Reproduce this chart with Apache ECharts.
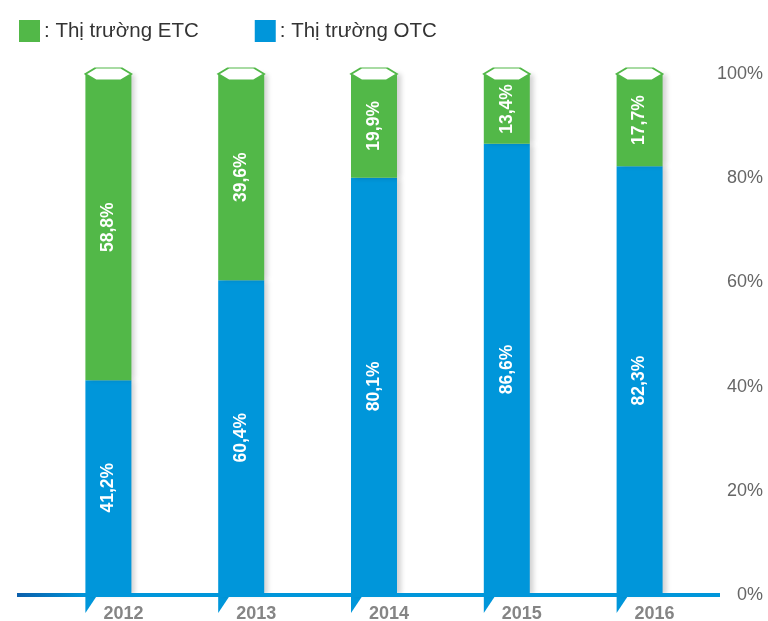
<!DOCTYPE html>
<html>
<head>
<meta charset="utf-8">
<script src="https://cdn.jsdelivr.net/npm/echarts@6/dist/echarts.min.js"></script>
<style>
  html, body { margin: 0; padding: 0; background: #fff; }
  #chart { width: 768px; height: 621px; }
</style>
</head>
<body>
<div id="chart"></div>
<script>
const years = ['2012', '2013', '2014', '2015', '2016'];
const otcValues = [41.2, 60.4, 80.1, 86.6, 82.3];
const etcValues = [58.8, 39.6, 19.9, 13.4, 17.7];
const capValues = [100, 100, 100, 100, 100];
const yTicks = [0, 20, 40, 60, 80, 100];

const GREEN = '#52b848';
const BLUE = '#0096da';
const BAR_W = 46;
const FONT = 'Liberation Sans, Arial, sans-serif';

const chart = echarts.init(document.getElementById('chart'));

const pct = v => v.toFixed(1).replace('.', ',') + '%';

const segLabel = {
    show: true,
    position: 'inside',
    rotate: 90,
    color: '#fff',
    fontWeight: 'bold',
    fontSize: 17.5,
    fontFamily: FONT,
    formatter: p => pct(p.value)
};

const barShadow = {
    shadowColor: 'rgba(0,0,0,0.18)',
    shadowBlur: 5,
    shadowOffsetX: 4
};

chart.setOption({
    animation: false,
    legend: {
        left: 14,
        top: 15,
        icon: 'rect',
        itemWidth: 21,
        itemHeight: 22,
        itemGap: 56,
        data: ['Thị trường ETC', 'Thị trường OTC'],
        formatter: ': {name}',
        textStyle: {
            fontSize: 20.5,
            color: '#333',
            fontFamily: FONT,
            padding: [0, 0, 0, -1]
        }
    },
    grid: { left: 42, right: 62, top: 74, bottom: 26, outerBoundsMode: 'none', containLabel: false },
    xAxis: {
        type: 'category',
        data: years,
        axisLine: { show: false },
        axisTick: { show: false },
        axisLabel: {
            margin: 10,
            color: '#858585',
            fontWeight: 'bold',
            fontSize: 18,
            fontFamily: FONT,
            padding: [0, 0, 0, 30]
        }
    },
    yAxis: {
        type: 'value',
        position: 'right',
        min: 0,
        max: 100,
        interval: 20,
        splitLine: { show: false },
        axisLine: { show: false },
        axisTick: { show: false },
        axisLabel: {
            align: 'right',
            margin: 57,
            color: '#666',
            fontSize: 18,
            fontFamily: FONT,
            formatter: v => yTicks.includes(v) ? v + '%' : ''
        }
    },
    series: [
        {
            name: 'Thị trường OTC',
            type: 'bar',
            stack: 'total',
            barWidth: BAR_W,
            data: otcValues,
            itemStyle: Object.assign({ color: BLUE }, barShadow),
            label: segLabel
        },
        {
            name: 'Thị trường ETC',
            type: 'bar',
            stack: 'total',
            barWidth: BAR_W,
            data: etcValues,
            itemStyle: Object.assign({ color: GREEN }, barShadow),
            label: segLabel
        },
        {
            name: 'cap',
            type: 'scatter',
            data: capValues,
            symbol: 'path://M0,6 L10,0 L36,0 L46,6 L36,12 L10,12 Z',
            symbolSize: [BAR_W, 12],
            z: 5,
            silent: true,
            itemStyle: { color: '#fff', borderColor: GREEN, borderWidth: 1.5, opacity: 1 }
        }
    ]
});

// baseline and year tabs, placed from the axes' own scales
function drawBase() {
    const y0 = chart.convertToPixel({ yAxisIndex: 0 }, 0);
    const tabs = years.map(y => {
        const cx = chart.convertToPixel({ xAxisIndex: 0 }, y);
        const x = cx - BAR_W / 2;
        return {
            type: 'polygon',
            shape: { points: [[x, y0], [x + 12, y0], [x, y0 + 18]] },
            style: { fill: BLUE },
            silent: true
        };
    });
    chart.setOption({
        graphic: [
            {
                type: 'rect',
                shape: { x: 17, y: y0 - 2, width: 703, height: 4 },
                style: {
                    fill: new echarts.graphic.LinearGradient(0, 0, 1, 0, [
                        { offset: 0, color: '#0b5fab' },
                        { offset: 0.1, color: BLUE },
                        { offset: 1, color: BLUE }
                    ])
                },
                z: 10,
                silent: true
            }
        ].concat(tabs)
    });
}
drawBase();
</script>
</body>
</html>
